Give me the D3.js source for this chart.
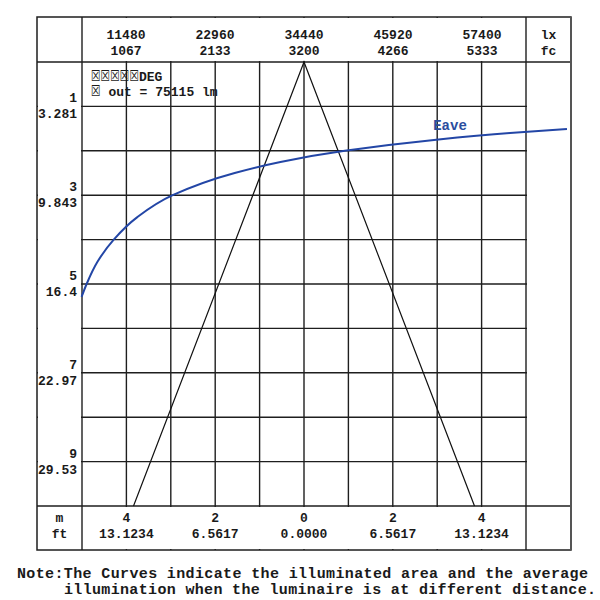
<!DOCTYPE html>
<html>
<head>
<meta charset="utf-8">
<script src="https://cdn.jsdelivr.net/npm/d3@7"></script>
<style>
  body { margin: 0; background: #fff; }
  text { font-family: "Liberation Mono", "DejaVu Sans Mono", monospace; font-weight: bold; fill: #1a1a1a; }
</style>
</head>
<body>
<svg id="chart" width="600" height="600"></svg>
<script>
// illuminance tick labels (top)
var luxTicks = [11480, 22960, 34440, 45920, 57400];
var fcTicks = ['1067', '2133', '3200', '4266', '5333'];
// distance labels (left)
var distTicks = [1, 3, 5, 7, 9];
var distFt = ['3.281', '9.843', '16.4', '22.97', '29.53'];
// width labels (bottom)
var widthTicks = [-4, -2, 0, 2, 4];
var widthFt = ['13.1234', '6.5617', '0.0000', '6.5617', '13.1234'];

// Eave curve
var eaveDist = [1.51, 1.6, 1.75, 2.0, 2.25, 2.5, 3.0, 3.5, 4.0, 4.5, 5.0, 5.29];
var eaveLux = [68360, 61000, 51500, 39700, 31400, 25500, 17500, 12900, 9900, 7800, 6400, 5750];

// illuminated area edges (width m, distance m)
var beamX = [-3.84, 0, 3.84];
var beamD = [10, 0, 10];

// legend: missing glyphs shown as boxes, then the readable part
var legendBoxes = ['\u2612\u2612\u2612\u2612\u2612', '\u2612'];
var legendText = ['DEG', ' out = 75115 lm'];
var noteLines = ['Note:The Curves indicate the illuminated area and the average',
                 'illumination when the luminaire is at different distance.'];

var svg = d3.select('#chart');
var outer = {left: 37, right: 571, top: 17, bottom: 550};
var plot = {left: 82, right: 526, top: 62, bottom: 506};

var x = d3.scaleLinear().domain([-5, 5]).range([plot.left, plot.right]);
var y = d3.scaleLinear().domain([0, 10]).range([plot.top, plot.bottom]);
var xLux = d3.scaleLinear().domain([0, 68880]).range([outer.left, outer.right]);

var lineColor = '#1e1e1e';

// GRID
var grid = svg.append('g').attr('stroke', lineColor).attr('stroke-width', 1.4);
grid.selectAll('line.v')
  .data(d3.range(-5, 6))
  .enter().append('line')
    .attr('x1', function(d) { return x(d); })
    .attr('x2', function(d) { return x(d); })
    .attr('y1', outer.top)
    .attr('y2', outer.bottom);
grid.selectAll('line.h')
  .data(d3.range(0, 11))
  .enter().append('line')
    .attr('y1', function(d) { return y(d); })
    .attr('y2', function(d) { return y(d); })
    .attr('x1', outer.left)
    .attr('x2', outer.right);
// blank out interior lines in the header / side / footer cells
svg.append('rect')
  .attr('x', plot.left + 1).attr('y', outer.top + 1)
  .attr('width', plot.right - plot.left - 2).attr('height', plot.top - outer.top - 2)
  .attr('fill', '#fff');
svg.append('rect')
  .attr('x', outer.left + 1).attr('y', plot.top + 1)
  .attr('width', plot.left - outer.left - 2).attr('height', plot.bottom - plot.top - 2)
  .attr('fill', '#fff');
svg.append('rect')
  .attr('x', plot.right + 1).attr('y', plot.top + 1)
  .attr('width', outer.right - plot.right - 2).attr('height', plot.bottom - plot.top - 2)
  .attr('fill', '#fff');
svg.append('rect')
  .attr('x', plot.left + 1).attr('y', plot.bottom + 1)
  .attr('width', plot.right - plot.left - 2).attr('height', outer.bottom - plot.bottom - 2)
  .attr('fill', '#fff');

svg.append('rect')
  .attr('x', outer.left).attr('y', outer.top)
  .attr('width', outer.right - outer.left).attr('height', outer.bottom - outer.top)
  .attr('fill', 'none').attr('stroke', lineColor).attr('stroke-width', 1.5);
svg.append('line')
  .attr('x1', outer.right).attr('x2', outer.right)
  .attr('y1', outer.top).attr('y2', outer.bottom)
  .attr('stroke', '#555').attr('stroke-width', 2);

var fs = 13;

// TOP LABELS
svg.selectAll('text.lux')
  .data(luxTicks)
  .enter().append('text')
    .attr('x', function(d) { return xLux(d); })
    .attr('y', 39)
    .attr('text-anchor', 'middle')
    .attr('font-size', fs)
    .text(function(d) { return d; });
svg.selectAll('text.fc')
  .data(fcTicks)
  .enter().append('text')
    .attr('x', function(d, i) { return xLux(luxTicks[i]); })
    .attr('y', 55)
    .attr('text-anchor', 'middle')
    .attr('font-size', fs)
    .text(function(d) { return d; });
svg.append('text').attr('x', (plot.right + outer.right) / 2).attr('y', 39)
  .attr('text-anchor', 'middle').attr('font-size', fs).text('lx');
svg.append('text').attr('x', (plot.right + outer.right) / 2).attr('y', 55)
  .attr('text-anchor', 'middle').attr('font-size', fs).text('fc');

// LEFT LABELS
svg.selectAll('text.dm')
  .data(distTicks)
  .enter().append('text')
    .attr('x', 77)
    .attr('y', function(d) { return y(d) - 4; })
    .attr('text-anchor', 'end')
    .attr('font-size', fs)
    .text(function(d) { return d; });
svg.selectAll('text.dft')
  .data(distFt)
  .enter().append('text')
    .attr('x', 77)
    .attr('y', function(d, i) { return y(distTicks[i]) + 12; })
    .attr('text-anchor', 'end')
    .attr('font-size', fs)
    .text(function(d) { return d; });

// BOTTOM LABELS
svg.selectAll('text.wm')
  .data(widthTicks)
  .enter().append('text')
    .attr('x', function(d) { return x(d); })
    .attr('y', 522)
    .attr('text-anchor', 'middle')
    .attr('font-size', fs)
    .text(function(d) { return Math.abs(d); });
svg.selectAll('text.wft')
  .data(widthFt)
  .enter().append('text')
    .attr('x', function(d, i) { return x(widthTicks[i]); })
    .attr('y', 538)
    .attr('text-anchor', 'middle')
    .attr('font-size', fs)
    .text(function(d) { return d; });
svg.append('text').attr('x', (outer.left + plot.left) / 2).attr('y', 522)
  .attr('text-anchor', 'middle').attr('font-size', fs).text('m');
svg.append('text').attr('x', (outer.left + plot.left) / 2).attr('y', 538)
  .attr('text-anchor', 'middle').attr('font-size', fs).text('ft');

// BEAM EDGES
var beam = beamX.map(function(v, i) { return [v, beamD[i]]; });
svg.append('path')
  .datum(beam)
  .attr('fill', 'none')
  .attr('stroke', '#111')
  .attr('stroke-width', 1.2)
  .attr('d', d3.line()
    .x(function(d) { return x(d[0]); })
    .y(function(d) { return y(d[1]); }));

// EAVE CURVE
var eave = eaveDist.map(function(d, i) { return [eaveLux[i], d]; });
svg.append('path')
  .datum(eave)
  .attr('fill', 'none')
  .attr('stroke', '#2346a6')
  .attr('stroke-width', 2)
  .attr('d', d3.line()
    .curve(d3.curveMonotoneY)
    .x(function(d) { return xLux(d[0]); })
    .y(function(d) { return y(d[1]); }));
svg.append('text')
  .attr('x', 450).attr('y', 130)
  .attr('text-anchor', 'middle')
  .attr('font-size', 14)
  .attr('font-family', '"Liberation Serif", serif')
  .style('fill', '#2a4d9e')
  .text('Eave');

// LEGEND
var leg = svg.selectAll('text.leg')
  .data(legendText)
  .enter().append('text')
    .attr('x', 91)
    .attr('y', function(d, i) { return 81 + i * 15; })
    .attr('font-size', 13);
leg.append('tspan')
  .attr('font-family', '"DejaVu Sans", sans-serif')
  .attr('font-weight', 'normal')
  .attr('font-size', 15)
  .attr('textLength', function(d, i) { return legendBoxes[i].length * 9.6; })
  .attr('lengthAdjust', 'spacingAndGlyphs')
  .text(function(d, i) { return legendBoxes[i]; });
leg.append('tspan')
  .text(function(d) { return d; });

// NOTE
svg.selectAll('text.note')
  .data(noteLines)
  .enter().append('text')
    .attr('x', function(d, i) { return i ? 64 : 17; })
    .attr('y', function(d, i) { return 578 + i * 16; })
    .attr('font-size', 15)
    .attr('textLength', function(d, i) { return i ? 532 : 571; })
    .attr('lengthAdjust', 'spacing')
    .text(function(d) { return d; });
</script>
</body>
</html>
